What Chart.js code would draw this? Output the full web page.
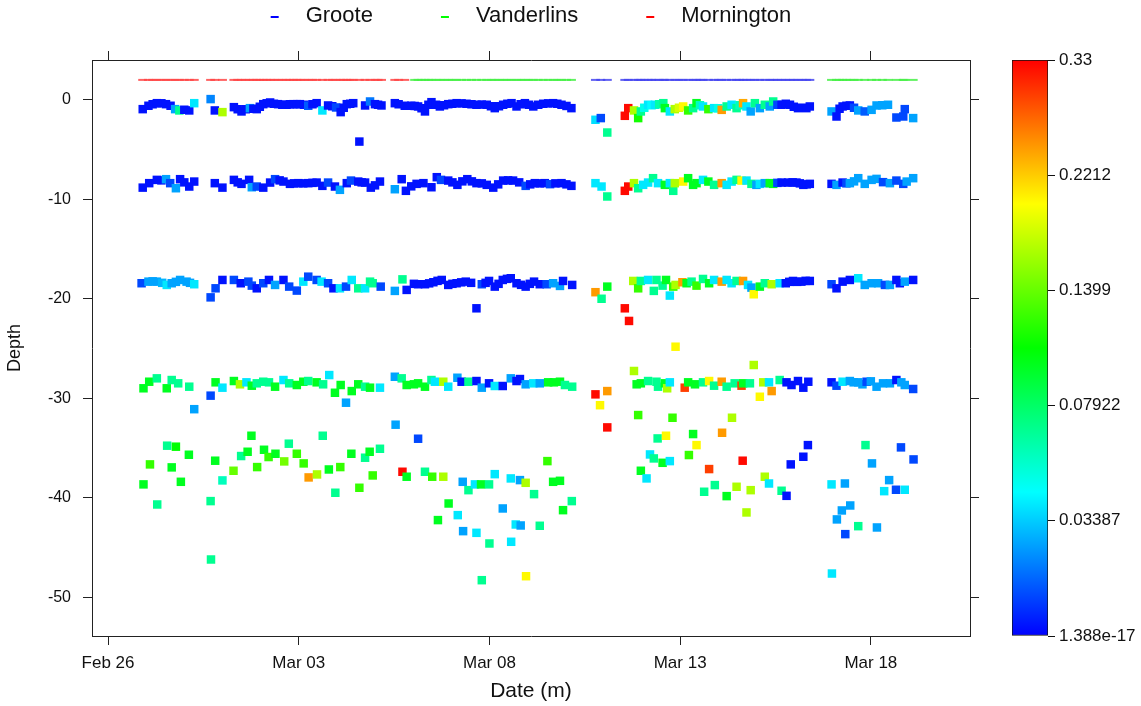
<!DOCTYPE html>
<html>
<head>
<meta charset="utf-8">
<script src="https://cdn.jsdelivr.net/npm/chart.js@4.4.1/dist/chart.umd.min.js"></script>
<style>
  body { margin: 0; background: #fff; }
  #wrap { position: relative; width: 1141px; height: 706px; }
  #main { position: absolute; left: 0; top: 0; }
  #key { position: absolute; left: 990px; top: 0; }
</style>
</head>
<body>
<div id="wrap">
  <canvas id="main" width="1141" height="706"></canvas>
  <canvas id="key" width="151" height="706"></canvas>
</div>
<script>
// days since Feb 26, depth (m), concentration
var surface = [
  [0.91,-0.94,.003],[1.06,-0.60,.003],[1.17,-0.45,.003],[1.28,-0.34,.003],[1.40,-0.35,.003],[1.52,-0.44,.003],[1.64,-0.60,.003],[1.76,-0.94,.027],[1.87,-1.07,.07],[2.00,-1.00,.003],
  [2.13,-1.07,.003],[2.26,-0.34,.04],[2.69,0.07,.022],[2.80,-1.07,.003],[3.00,-1.24,.168],[3.30,-0.74,.003],[3.40,-0.95,.003],[3.50,-1.17,.003],[3.61,-0.95,.003],[3.72,-0.84,.027],
  [3.81,-0.90,.003],[3.90,-0.94,.003],[3.98,-0.70,.003],[4.07,-0.44,.003],[4.16,-0.35,.003],[4.25,-0.27,.003],[4.35,-0.40,.003],[4.46,-0.44,.003],[4.57,-0.50,.003],[4.68,-0.50,.003],
  [4.77,-0.45,.003],[4.86,-0.44,.003],[4.95,-0.44,.003],[5.03,-0.44,.003],[5.14,-0.50,.003],[5.25,-0.60,.015],[5.36,-0.45,.003],[5.47,-0.34,.003],[5.62,-1.07,.04],[5.77,-0.57,.003],
  [5.88,-0.65,.003],[5.98,-0.77,.012],[6.10,-1.24,.003],[6.18,-0.80,.003],[6.26,-0.44,.003],[6.35,-0.40,.003],[6.43,-0.34,.003],[6.59,-4.20,.003],[6.74,-0.57,.003],[6.87,-0.17,.02],
  [7.00,-0.44,.003],[7.08,-0.50,.003],[7.17,-0.57,.003],[7.52,-0.34,.003],[7.62,-0.45,.003],[7.78,-0.60,.003],[7.95,-0.60,.003],[8.04,-0.62,.003],[8.13,-0.67,.003],[8.22,-0.85,.003],
  [8.31,-1.17,.003],[8.40,-0.50,.003],[8.48,-0.24,.003],[8.60,-0.50,.003],[8.70,-0.67,.003],[8.81,-0.55,.003],[8.92,-0.44,.003],[9.03,-0.40,.003],[9.14,-0.34,.003],[9.27,-0.36,.003],
  [9.40,-0.40,.003],[9.53,-0.45,.003],[9.66,-0.50,.003],[9.80,-0.48,.003],[9.93,-0.50,.003],[10.04,-0.65,.003],[10.14,-0.84,.003],[10.25,-0.65,.003],[10.36,-0.50,.003],[10.47,-0.40,.003],
  [10.58,-0.34,.003],[10.71,-0.67,.003],[10.82,-0.45,.003],[10.93,-0.34,.003],[11.04,-0.50,.003],[11.15,-0.67,.003],[11.28,-0.50,.003],[11.41,-0.40,.003],[11.54,-0.36,.003],[11.67,-0.34,.003],
  [11.78,-0.40,.003],[11.89,-0.50,.003],[12.02,-0.62,.003],[12.15,-0.84,.003],[12.78,-2.01,.038],[12.92,-1.84,.012],[13.09,-3.29,.07],[13.55,-1.61,.325],[13.64,-0.84,.325],[13.79,-1.07,.168],
  [13.90,-1.84,.115],[13.97,-1.17,.07],[14.06,-0.80,.05],[14.16,-0.50,.04],[14.25,-0.55,.045],[14.34,-0.50,.04],[14.45,-0.45,.065],[14.56,-0.34,.07],[14.60,-0.84,.10],[14.73,-1.17,.04],
  [14.86,-0.94,.168],[14.97,-0.80,.185],[15.08,-0.67,.203],[15.21,-1.07,.125],[15.34,-0.84,.07],[15.43,-0.34,.10],[15.52,-0.55,.06],[15.60,-0.67,.04],[15.74,-0.94,.125],[15.89,-0.84,.04],
  [16.00,-0.85,.05],[16.09,-1.01,.248],[16.22,-0.67,.07],[16.35,-0.50,.04],[16.48,-0.84,.07],[16.56,-0.55,.06],[16.65,-0.34,.24],[16.74,-0.67,.04],[16.85,-1.17,.027],[16.96,-0.34,.07],
  [17.09,-0.84,.027],[17.22,-0.50,.07],[17.35,-0.67,.027],[17.44,-0.17,.07],[17.55,-0.50,.012],[17.66,-0.50,.003],[17.77,-0.40,.003],[17.88,-0.50,.003],[17.98,-0.70,.003],[18.09,-0.84,.003],
  [18.20,-0.80,.003],[18.31,-0.84,.003],[18.40,-0.67,.003],[18.97,-1.17,.027],[19.10,-1.68,.003],[19.18,-0.90,.003],[19.26,-0.67,.003],[19.36,-0.60,.003],[19.45,-0.57,.003],[19.56,-0.80,.012],
  [19.67,-1.07,.027],[19.84,-1.17,.015],[20.02,-1.01,.027],[20.15,-0.57,.027],[20.30,-0.55,.027],[20.45,-0.50,.027],[20.67,-1.78,.012],[20.85,-1.68,.012],[20.89,-0.94,.012],[21.11,-1.84,.027]
];
var depth8 = [
  [0.91,-8.83,.003],[1.08,-8.38,.003],[1.28,-8.05,.003],[1.40,-8.10,.003],[1.52,-7.98,.027],[1.63,-8.38,.012],[1.78,-8.89,.027],[1.89,-7.98,.003],[2.00,-8.30,.003],[2.13,-8.72,.003],
  [2.26,-8.22,.003],[2.80,-8.38,.003],[3.00,-8.83,.003],[3.30,-8.05,.003],[3.40,-8.30,.003],[3.50,-8.45,.003],[3.70,-8.05,.003],[3.77,-8.79,.027],[3.90,-8.72,.012],[4.07,-8.83,.003],
  [4.25,-8.32,.003],[4.38,-7.98,.012],[4.50,-8.10,.003],[4.60,-8.22,.003],[4.77,-8.45,.003],[4.88,-8.40,.003],[4.99,-8.38,.003],[5.12,-8.40,.003],[5.25,-8.38,.003],[5.36,-8.35,.003],
  [5.47,-8.32,.003],[5.62,-8.65,.003],[5.77,-8.32,.012],[5.95,-8.72,.003],[6.08,-9.05,.027],[6.26,-8.38,.003],[6.37,-8.12,.012],[6.56,-8.22,.003],[6.65,-8.30,.003],[6.74,-8.32,.003],
  [6.89,-8.83,.003],[7.00,-8.60,.003],[7.13,-8.22,.003],[7.52,-8.99,.027],[7.70,-7.98,.003],[7.81,-9.15,.003],[7.95,-8.70,.003],[8.09,-8.45,.003],[8.27,-8.38,.003],[8.48,-8.79,.003],
  [8.62,-7.78,.003],[8.73,-8.05,.012],[8.92,-8.12,.003],[9.03,-8.30,.003],[9.16,-8.55,.003],[9.29,-8.20,.003],[9.42,-7.98,.003],[9.54,-8.20,.003],[9.66,-8.38,.003],[9.80,-8.40,.003],
  [9.93,-8.55,.003],[10.10,-8.83,.003],[10.23,-8.50,.003],[10.36,-8.12,.003],[10.49,-8.10,.003],[10.62,-8.12,.003],[10.78,-8.30,.003],[10.95,-8.65,.012],[11.07,-8.50,.003],[11.19,-8.38,.003],
  [11.32,-8.40,.003],[11.45,-8.38,.003],[11.59,-8.48,.012],[11.73,-8.40,.003],[11.89,-8.38,.003],[12.02,-8.50,.003],[12.15,-8.65,.003],[12.78,-8.38,.04],[12.94,-8.72,.04],[13.09,-9.72,.07],
  [13.55,-9.15,.325],[13.64,-8.72,.325],[13.79,-8.38,.168],[13.90,-8.89,.07],[14.03,-8.55,.04],[14.16,-8.32,.04],[14.29,-7.88,.07],[14.42,-8.38,.04],[14.60,-8.55,.10],[14.73,-8.38,.04],
  [14.82,-9.15,.07],[14.86,-8.38,.168],[15.08,-8.22,.203],[15.21,-7.88,.10],[15.34,-8.55,.10],[15.43,-8.38,.10],[15.60,-8.05,.04],[15.74,-8.22,.10],[15.89,-8.55,.07],[16.09,-8.38,.248],
  [16.22,-8.55,.04],[16.35,-8.22,.04],[16.48,-8.05,.07],[16.61,-8.12,.203],[16.74,-8.12,.04],[16.87,-8.45,.07],[17.00,-8.55,.027],[17.09,-8.45,.04],[17.22,-8.38,.027],[17.35,-8.38,.10],
  [17.44,-8.45,.10],[17.55,-8.35,.012],[17.66,-8.32,.003],[17.83,-8.32,.003],[17.95,-8.30,.003],[18.05,-8.32,.003],[18.14,-8.40,.003],[18.23,-8.55,.003],[18.32,-8.50,.003],[18.40,-8.45,.003],
  [18.97,-8.45,.003],[19.10,-8.55,.027],[19.26,-8.32,.003],[19.36,-8.40,.012],[19.45,-8.38,.027],[19.56,-8.20,.027],[19.67,-7.88,.027],[19.84,-8.45,.027],[20.02,-8.05,.027],[20.15,-7.95,.027],
  [20.32,-8.28,.012],[20.50,-8.38,.027],[20.67,-8.12,.012],[20.85,-8.45,.012],[20.94,-8.22,.027],[21.11,-7.88,.027]
];
var depth18 = [
  [0.88,-18.44,.012],[1.06,-18.28,.027],[1.17,-18.25,.027],[1.28,-18.28,.027],[1.42,-18.40,.03],[1.54,-18.61,.04],[1.67,-18.44,.027],[1.78,-18.30,.027],[1.89,-18.11,.027],[2.06,-18.28,.027],
  [2.15,-18.40,.027],[2.26,-18.54,.04],[2.69,-19.86,.012],[2.82,-18.95,.012],[3.00,-18.11,.003],[3.30,-18.11,.012],[3.48,-18.44,.003],[3.68,-18.28,.012],[3.77,-18.68,.012],[3.90,-18.95,.003],
  [4.07,-18.44,.012],[4.22,-18.11,.003],[4.38,-18.61,.027],[4.60,-18.11,.003],[4.75,-18.78,.012],[4.95,-19.18,.012],[5.12,-18.28,.04],[5.25,-17.78,.012],[5.47,-18.11,.012],[5.60,-18.28,.04],
  [5.77,-18.44,.012],[5.91,-18.95,.003],[6.08,-18.95,.04],[6.24,-18.78,.012],[6.39,-18.11,.04],[6.56,-18.95,.07],[6.74,-18.95,.04],[6.87,-18.28,.07],[6.94,-18.44,.07],[7.15,-18.78,.012],
  [7.52,-19.21,.027],[7.72,-18.05,.07],[7.83,-19.11,.003],[8.02,-18.50,.003],[8.13,-18.54,.003],[8.31,-18.54,.003],[8.42,-18.45,.003],[8.53,-18.34,.003],[8.64,-18.20,.003],[8.75,-18.11,.003],
  [8.92,-18.61,.003],[9.03,-18.50,.003],[9.14,-18.44,.003],[9.26,-18.35,.003],[9.38,-18.28,.003],[9.52,-18.40,.003],[9.66,-20.96,.003],[9.80,-18.54,.012],[9.90,-18.40,.003],[9.99,-18.21,.003],
  [10.14,-18.78,.003],[10.24,-18.50,.003],[10.35,-18.11,.003],[10.46,-18.00,.003],[10.56,-17.94,.003],[10.71,-18.44,.003],[10.83,-18.60,.003],[10.95,-18.78,.003],[11.06,-18.50,.003],[11.17,-18.28,.003],
  [11.32,-18.54,.003],[11.50,-18.54,.012],[11.67,-18.44,.027],[11.85,-18.71,.027],[11.93,-18.21,.003],[12.17,-18.61,.003],[12.78,-19.34,.248],[12.94,-20.00,.07],[13.09,-18.78,.10],[13.55,-20.96,.325],
  [13.66,-22.23,.325],[13.77,-18.21,.168],[13.90,-18.95,.125],[13.97,-18.21,.07],[14.16,-18.11,.04],[14.31,-19.21,.07],[14.38,-18.11,.07],[14.54,-18.68,.07],[14.63,-18.11,.10],[14.73,-19.68,.04],
  [14.82,-18.78,.125],[14.88,-18.61,.168],[15.06,-18.34,.248],[15.17,-18.44,.10],[15.30,-18.28,.07],[15.43,-18.68,.125],[15.60,-18.01,.07],[15.76,-18.44,.10],[15.89,-18.11,.04],[16.09,-18.28,.248],
  [16.22,-18.11,.04],[16.35,-18.44,.04],[16.48,-18.21,.07],[16.65,-18.21,.248],[16.78,-18.61,.04],[16.87,-18.88,.027],[16.93,-19.55,.203],[17.09,-18.78,.10],[17.22,-18.44,.07],[17.40,-18.54,.168],
  [17.61,-18.44,.04],[17.77,-18.44,.003],[17.86,-18.30,.003],[17.96,-18.21,.003],[18.07,-18.30,.003],[18.18,-18.28,.003],[18.29,-18.20,.003],[18.40,-18.21,.003],[18.97,-18.54,.012],[19.10,-18.95,.003],
  [19.26,-18.28,.003],[19.45,-18.11,.003],[19.67,-17.94,.04],[19.84,-18.61,.027],[20.02,-18.44,.027],[20.19,-18.44,.027],[20.37,-18.61,.012],[20.50,-18.61,.027],[20.67,-18.11,.003],[20.76,-18.44,.003],
  [20.89,-18.28,.027],[21.11,-18.11,.003]
];
var depth28 = [
  [0.93,-29.00,.10],[1.08,-28.34,.10],[1.28,-28.00,.07],[1.54,-29.00,.10],[1.67,-28.17,.07],[1.84,-28.50,.07],[2.13,-28.84,.07],[2.26,-31.10,.027],[2.69,-29.74,.012],[2.82,-28.40,.10],
  [3.00,-28.94,.04],[3.30,-28.27,.10],[3.46,-28.60,.168],[3.63,-28.40,.04],[3.77,-28.74,.10],[3.90,-28.50,.07],[4.07,-28.34,.07],[4.22,-28.40,.07],[4.38,-28.84,.10],[4.60,-28.17,.04],
  [4.75,-28.50,.07],[4.95,-28.67,.10],[5.12,-28.34,.10],[5.25,-28.27,.07],[5.47,-28.40,.10],[5.64,-28.60,.07],[5.80,-27.67,.04],[5.95,-29.45,.10],[6.10,-28.67,.10],[6.24,-30.45,.027],
  [6.39,-29.28,.10],[6.56,-28.60,.10],[6.74,-28.84,.07],[6.87,-28.94,.10],[7.13,-28.94,.04],[7.52,-27.84,.027],[7.70,-28.00,.07],[7.83,-28.67,.10],[8.02,-28.60,.10],[8.13,-28.50,.10],
  [8.31,-28.84,.10],[8.48,-28.17,.07],[8.57,-28.34,.04],[8.79,-28.34,.168],[8.92,-28.84,.04],[9.16,-27.94,.027],[9.27,-28.34,.003],[9.45,-28.34,.07],[9.66,-28.27,.003],[9.80,-28.94,.027],
  [9.99,-28.50,.003],[10.14,-28.77,.04],[10.35,-28.77,.003],[10.56,-28.00,.027],[10.71,-28.27,.003],[10.80,-28.07,.003],[10.95,-28.60,.027],[11.15,-28.50,.04],[11.32,-28.50,.027],[11.54,-28.40,.10],
  [11.69,-28.40,.10],[11.85,-28.34,.10],[11.98,-28.67,.07],[12.17,-28.84,.07],[12.78,-29.61,.325],[12.90,-30.70,.203],[13.09,-29.28,.248],[13.79,-27.26,.168],[13.86,-28.60,.10],[13.97,-28.50,.10],
  [14.16,-28.27,.07],[14.38,-28.34,.07],[14.42,-28.84,.07],[14.60,-28.50,.10],[14.66,-29.00,.168],[14.73,-28.40,.04],[14.88,-24.82,.203],[15.12,-28.94,.297],[15.21,-28.40,.10],[15.39,-28.60,.10],
  [15.60,-28.40,.07],[15.76,-28.27,.203],[15.89,-28.74,.07],[16.09,-28.34,.248],[16.22,-28.84,.07],[16.43,-28.50,.07],[16.61,-28.74,.297],[16.65,-28.50,.10],[16.83,-28.50,.07],[16.93,-26.66,.168],
  [17.09,-29.85,.203],[17.18,-28.40,.168],[17.33,-28.40,.04],[17.40,-29.28,.248],[17.61,-28.17,.07],[17.79,-28.40,.003],[17.92,-28.67,.003],[18.09,-28.27,.003],[18.23,-28.94,.003],[18.36,-28.34,.003],
  [18.97,-28.40,.003],[19.10,-28.74,.012],[19.26,-28.34,.04],[19.45,-28.27,.027],[19.55,-28.40,.027],[19.67,-28.40,.027],[19.78,-28.60,.027],[19.89,-28.34,.012],[20.00,-28.30,.027],[20.15,-28.84,.027],
  [20.32,-28.50,.027],[20.50,-28.50,.027],[20.67,-28.17,.003],[20.80,-28.40,.027],[20.89,-28.67,.027],[21.11,-29.07,.012]
];
var bottom = [
  [0.93,-38.66,.10],[1.10,-36.65,.125],[1.29,-40.68,.07],[1.55,-34.77,.07],[1.67,-36.95,.10],[1.78,-34.87,.11],[1.91,-38.40,.10],[2.12,-35.68,.10],[2.69,-40.34,.07],[2.70,-46.21,.07],
  [2.81,-36.28,.10],[3.00,-38.26,.06],[3.29,-37.29,.14],[3.49,-35.81,.07],[3.66,-35.38,.10],[3.76,-33.77,.10],[3.91,-36.92,.125],[4.09,-35.18,.10],[4.21,-35.91,.125],[4.39,-35.58,.10],
  [4.62,-36.35,.145],[4.74,-34.57,.07],[4.95,-35.58,.125],[5.13,-36.55,.125],[5.26,-37.96,.248],[5.48,-37.66,.168],[5.63,-33.77,.07],[5.79,-37.16,.10],[5.96,-39.50,.07],[6.09,-36.92,.125],
  [6.38,-35.58,.10],[6.59,-39.00,.125],[6.74,-35.98,.07],[6.86,-35.38,.10],[6.94,-37.76,.125],[7.13,-35.08,.07],[7.54,-32.66,.027],[7.72,-37.39,.325],[7.83,-37.89,.10],[8.13,-34.07,.012],
  [8.31,-37.39,.07],[8.50,-37.89,.125],[8.65,-42.25,.10],[8.79,-37.89,.168],[8.93,-40.58,.10],[9.17,-41.75,.04],[9.30,-38.40,.027],[9.31,-43.36,.027],[9.45,-39.24,.07],[9.62,-38.66,.04],
  [9.66,-43.53,.04],[9.78,-38.66,.10],[9.80,-48.29,.07],[9.99,-38.66,.07],[10.00,-44.60,.07],[10.14,-37.63,.04],[10.35,-41.08,.027],[10.56,-38.06,.04],[10.57,-44.43,.04],[10.69,-42.69,.04],
  [10.80,-38.23,.027],[10.82,-42.79,.027],[10.95,-38.50,.168],[10.96,-47.89,.203],[11.17,-39.64,.07],[11.32,-42.82,.07],[11.52,-36.32,.125],[11.67,-38.40,.10],[11.85,-38.30,.10],[11.93,-41.25,.10],
  [12.16,-40.34,.07],[13.09,-32.93,.325],[13.90,-31.69,.125],[13.97,-37.29,.10],[14.12,-38.06,.04],[14.21,-35.65,.04],[14.31,-36.05,.07],[14.41,-34.04,.07],[14.54,-36.49,.10],[14.63,-33.77,.203],
  [14.73,-36.32,.04],[14.80,-31.96,.125],[15.23,-35.71,.125],[15.34,-33.60,.10],[15.43,-34.71,.203],[15.63,-39.40,.07],[15.76,-37.12,.297],[15.91,-38.73,.07],[16.10,-33.47,.248],[16.22,-39.84,.10],
  [16.36,-31.96,.168],[16.48,-38.90,.168],[16.64,-36.28,.325],[16.74,-41.48,.168],[16.85,-39.24,.168],[17.22,-37.89,.168],[17.33,-38.57,.04],[17.66,-39.30,.07],[17.79,-39.81,.003],[17.90,-36.65,.003],
  [18.23,-35.88,.003],[18.35,-34.71,.003],[18.97,-38.66,.04],[18.98,-47.62,.04],[19.11,-42.18,.027],[19.24,-41.28,.027],[19.32,-38.57,.027],[19.33,-43.66,.012],[19.46,-40.78,.027],[19.67,-42.86,.07],
  [19.86,-34.71,.07],[20.03,-36.55,.027],[20.16,-42.99,.027],[20.35,-39.34,.04],[20.48,-38.23,.027],[20.66,-39.20,.012],[20.79,-34.94,.012],[20.89,-39.20,.04],[21.12,-36.15,.012]
];

// which site was sampled when (days since Feb 26)
var siteNames = ['Groote', 'Vanderlins', 'Mornington'];
var siteColors = ['#0000ff', '#00ff00', '#ff0000'];
var siteLineColors = ['rgba(70,70,240,0.85)', 'rgba(70,240,70,0.85)', 'rgba(255,70,70,0.85)'];
var visitSite = ['Mornington', 'Vanderlins', 'Groote', 'Groote', 'Vanderlins'];
var visitFrom = [0.8, 8.0, 12.6, 13.4, 18.8];
var visitTo = [7.9, 12.3, 13.2, 18.5, 21.2];
var siteLevel = 2;

var xTickDays = [0, 5, 10, 15, 20];
var xTickLabels = ['Feb 26', 'Mar 03', 'Mar 08', 'Mar 13', 'Mar 18'];
var yTickVals = [-50, -40, -30, -20, -10, 0];
var keyBreaks = [1.388e-17, 0.03387, 0.07922, 0.1399, 0.2212, 0.33];
var keyLabels = ['1.388e-17', '0.03387', '0.07922', '0.1399', '0.2212', '0.33'];

var FONT = '"Liberation Sans", Arial, sans-serif';
Chart.defaults.font.family = FONT;
Chart.defaults.color = '#111';

function keyPos(v) {
  for (var i = 1; i < keyBreaks.length; i++) {
    if (v <= keyBreaks[i]) return i - 1 + (v - keyBreaks[i - 1]) / (keyBreaks[i] - keyBreaks[i - 1]);
  }
  return keyBreaks.length - 1;
}
function rampColor(pos) {
  var h = 240 * (1 - pos / (keyBreaks.length - 1));
  return 'hsl(' + h.toFixed(1) + ',100%,50%)';
}

function depthSet(rows) {
  return {
    data: rows.map(function (r) { return { x: r[0], y: r[1] }; }),
    pointStyle: 'rect',
    pointRadius: 6,
    pointHoverRadius: 6,
    pointBorderWidth: 0,
    pointBackgroundColor: rows.map(function (r) { return rampColor(keyPos(r[2])); }),
    showLine: false
  };
}

function siteSet(name, idx) {
  var pts = surface.filter(function (r) {
    for (var i = 0; i < visitSite.length; i++) {
      if (visitSite[i] === name && r[0] >= visitFrom[i] && r[0] <= visitTo[i]) return true;
    }
    return false;
  }).map(function (r) { return { x: r[0], y: siteLevel }; });
  return {
    label: name,
    data: pts,
    pointStyle: 'line',
    pointRadius: 4.5,
    pointHoverRadius: 4.5,
    pointBorderColor: siteLineColors[idx],
    pointBorderWidth: 2,
    showLine: false
  };
}

var siteKey = {
  id: 'siteKey',
  afterDraw: function (chart) {
    var ctx = chart.ctx, area = chart.chartArea;
    ctx.save();
    ctx.font = '22px ' + FONT;
    ctx.textBaseline = 'middle';
    ctx.fillStyle = '#111';
    var widths = siteNames.map(function (n) { return 35 + ctx.measureText(n).width; });
    var total = widths.reduce(function (a, b) { return a + b; }, 0) + 68 * (siteNames.length - 1);
    var x = (area.left + area.right) / 2 - total / 2;
    siteNames.forEach(function (n, i) {
      ctx.strokeStyle = siteColors[i];
      ctx.lineWidth = 2;
      ctx.beginPath();
      ctx.moveTo(x, 17);
      ctx.lineTo(x + 8, 17);
      ctx.stroke();
      ctx.fillText(n, x + 35, 16);
      x += widths[i] + 68;
    });
    ctx.restore();
  }
};

function edgeAxis(pos, min, max, vals, size) {
  return {
    type: 'linear', position: pos, min: min, max: max,
    afterBuildTicks: function (s) { s.ticks = vals.map(function (v) { return { value: v }; }); },
    ticks: { display: false },
    grid: { drawOnChartArea: false, tickLength: 9, color: '#222' },
    border: { display: true, color: '#222', width: 1 },
    afterFit: function (s) { if (s.isHorizontal()) s.height = size; else s.width = size; }
  };
}

var xMin = -0.42, xMax = 22.6, yMin = -53.9, yMax = 4.0;

new Chart(document.getElementById('main'), {
  type: 'scatter',
  data: {
    datasets: siteNames.map(siteSet).concat([
      depthSet(surface), depthSet(depth8), depthSet(depth18), depthSet(depth28), depthSet(bottom)
    ])
  },
  plugins: [siteKey],
  options: {
    responsive: false,
    animation: false,
    layout: { padding: { top: 52, right: 163, left: 0, bottom: 0 } },
    plugins: { legend: { display: false }, tooltip: { enabled: false } },
    scales: {
      x: {
        type: 'linear', position: 'bottom', min: xMin, max: xMax,
        afterBuildTicks: function (s) { s.ticks = xTickDays.map(function (v) { return { value: v }; }); },
        ticks: {
          autoSkip: false, maxRotation: 0, padding: 8, font: { size: 17 }, color: '#111',
          callback: function (v) { var i = xTickDays.indexOf(v); return i < 0 ? '' : xTickLabels[i]; }
        },
        grid: { drawOnChartArea: false, tickLength: 9, color: '#222' },
        border: { display: true, color: '#222', width: 1 },
        title: { display: true, text: 'Date (m)', font: { size: 21 }, color: '#111', padding: { top: 4, bottom: 2 } },
        afterFit: function (s) { s.height = 70; }
      },
      x2: edgeAxis('top', xMin, xMax, xTickDays, 8),
      y: {
        type: 'linear', position: 'left', min: yMin, max: yMax,
        afterBuildTicks: function (s) { s.ticks = yTickVals.map(function (v) { return { value: v }; }); },
        ticks: { padding: 12, font: { size: 16 }, color: '#111', callback: function (v) { return String(v); } },
        grid: { drawOnChartArea: false, tickLength: 9, color: '#222' },
        border: { display: true, color: '#222', width: 1 },
        title: { display: true, text: 'Depth', font: { size: 18 }, color: '#111', padding: { top: 4, bottom: 4 } },
        afterFit: function (s) { s.width = 92; }
      },
      y2: edgeAxis('right', yMin, yMax, yTickVals, 8)
    }
  }
});

// colour key
new Chart(document.getElementById('key'), {
  type: 'bar',
  data: {
    labels: [''],
    datasets: [{
      data: [[0, keyLabels.length - 1]],
      backgroundColor: function (c) {
        var a = c.chart.chartArea;
        if (!a) return '#00f';
        var g = c.chart.ctx.createLinearGradient(0, a.bottom, 0, a.top);
        for (var i = 0; i <= 20; i++) g.addColorStop(i / 20, rampColor(i / 20 * (keyLabels.length - 1)));
        return g;
      },
      borderColor: '#111',
      borderWidth: 1,
      borderSkipped: false,
      barPercentage: 1,
      categoryPercentage: 1
    }]
  },
  options: {
    responsive: false,
    animation: false,
    layout: { padding: { left: 22, top: 60, bottom: 70, right: 0 } },
    plugins: { legend: { display: false }, tooltip: { enabled: false } },
    scales: {
      x: { display: false },
      y: {
        position: 'right', min: 0, max: keyLabels.length - 1,
        afterBuildTicks: function (s) { s.ticks = keyLabels.map(function (l, i) { return { value: i }; }); },
        ticks: { padding: 4, font: { size: 17 }, color: '#111', callback: function (v) { return keyLabels[v]; } },
        grid: { drawOnChartArea: false, tickLength: 7, color: '#111' },
        border: { display: false },
        afterFit: function (s) { s.width = 93; }
      }
    }
  }
});
</script>
</body>
</html>
